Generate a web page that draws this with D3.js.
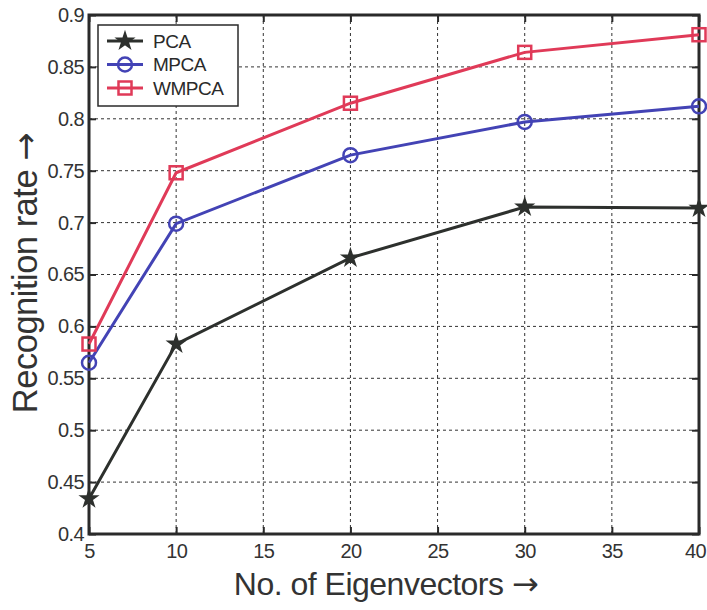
<!DOCTYPE html>
<html>
<head>
<meta charset="utf-8">
<script src="https://cdn.jsdelivr.net/npm/d3@7"></script>
<style>
  body { margin: 0; background: #fff; }
  svg { display: block; font-family: "Liberation Sans", Arial, sans-serif; }
  .grid line { stroke: #333; stroke-width: 1; stroke-dasharray: 3,3; }
  .axis text { font-size: 20px; fill: #333; letter-spacing: -0.6px; }
  .axis line, .axis path { stroke: #2a2a2a; }
</style>
</head>
<body>
<div id="chart"></div>
<script>
// Data
const eigenvectors = [5, 10, 20, 30, 40];
const pca   = [0.434, 0.583, 0.666, 0.715, 0.714];
const mpca  = [0.565, 0.699, 0.765, 0.797, 0.812];
const wmpca = [0.583, 0.748, 0.815, 0.864, 0.881];
const xTicks = [5, 10, 15, 20, 25, 30, 35, 40];
const yTicks = [0.4, 0.45, 0.5, 0.55, 0.6, 0.65, 0.7, 0.75, 0.8, 0.85, 0.9];

const series = [
    {name: "PCA",   values: pca,   color: "#2d302d", marker: "star"},
    {name: "MPCA",  values: mpca,  color: "#4343b5", marker: "circle"},
    {name: "WMPCA", values: wmpca, color: "#e03a58", marker: "square"}
];

const W = 707, H = 610;
const margin = {top: 15, right: 8, bottom: 76, left: 89};
const width = W - margin.left - margin.right;
const height = H - margin.top - margin.bottom;

const svg = d3.select("#chart")
    .append("svg")
    .attr("width", W)
    .attr("height", H)
    .append("g")
    .attr("transform", `translate(${margin.left},${margin.top})`);

const x = d3.scaleLinear().domain([5, 40]).range([0, width]);
const y = d3.scaleLinear().domain([0.4, 0.9]).range([height, 0]);

// Grid
svg.append("g")
    .attr("class", "grid")
    .selectAll("line")
    .data(xTicks.slice(1, -1))
    .enter().append("line")
    .attr("x1", d => x(d)).attr("x2", d => x(d))
    .attr("y1", 0).attr("y2", height);

svg.append("g")
    .attr("class", "grid")
    .selectAll("line")
    .data(yTicks.slice(1, -1))
    .enter().append("line")
    .attr("x1", 0).attr("x2", width)
    .attr("y1", d => y(d)).attr("y2", d => y(d));

// Axes (inward ticks, MATLAB style)
const fmt = d => String(+d.toFixed(2));

svg.append("g")
    .attr("class", "axis")
    .attr("transform", `translate(0,${height})`)
    .call(d3.axisBottom(x).tickValues(xTicks).tickSize(-7).tickPadding(10).tickFormat(fmt))
    .call(g => g.select(".domain").remove())
    .call(g => g.selectAll("line").attr("stroke-width", 2))
    .call(g => g.selectAll("text").filter(d => d === 40).attr("dx", -4));

svg.append("g")
    .attr("class", "axis")
    .call(d3.axisTop(x).tickValues(xTicks).tickSize(-7).tickFormat(""))
    .call(g => g.select(".domain").remove())
    .call(g => g.selectAll("line").attr("stroke-width", 2));

svg.append("g")
    .attr("class", "axis")
    .call(d3.axisLeft(y).tickValues(yTicks).tickSize(-7).tickPadding(5).tickFormat(fmt))
    .call(g => g.select(".domain").remove())
    .call(g => g.selectAll("line").attr("stroke-width", 2));

svg.append("g")
    .attr("class", "axis")
    .attr("transform", `translate(${width},0)`)
    .call(d3.axisRight(y).tickValues(yTicks).tickSize(-7).tickFormat(""))
    .call(g => g.select(".domain").remove())
    .call(g => g.selectAll("line").attr("stroke-width", 2));

// Frame
svg.append("rect")
    .attr("width", width)
    .attr("height", height)
    .attr("fill", "none")
    .attr("stroke", "#2a2a2a")
    .attr("stroke-width", 3);

// Lines
const line = d3.line()
    .x((d, i) => x(eigenvectors[i]))
    .y(d => y(d));

const star = d3.symbol().type(d3.symbolStar).size(85);

function drawMarker(g, s) {
    if (s.marker === "star") {
        g.append("path").attr("d", star).attr("fill", s.color).attr("stroke", s.color).attr("stroke-width", 1.5);
    } else if (s.marker === "circle") {
        g.append("circle").attr("r", 7).attr("fill", "none").attr("stroke", s.color).attr("stroke-width", 2.5);
    } else {
        g.append("rect").attr("x", -6.5).attr("y", -6.5).attr("width", 13).attr("height", 13)
            .attr("fill", "none").attr("stroke", s.color).attr("stroke-width", 2.5);
    }
}

series.forEach(s => {
    svg.append("path")
        .datum(s.values)
        .attr("fill", "none")
        .attr("stroke", s.color)
        .attr("stroke-width", 3)
        .attr("d", line);

    s.values.forEach((v, i) => {
        const g = svg.append("g").attr("transform", `translate(${x(eigenvectors[i])},${y(v)})`);
        drawMarker(g, s);
    });
});

// Legend
const legend = svg.append("g").attr("transform", "translate(9,10)");
legend.append("rect")
    .attr("width", 140)
    .attr("height", 81)
    .attr("fill", "#fff")
    .attr("stroke", "#2a2a2a")
    .attr("stroke-width", 1.5);

series.forEach((s, i) => {
    const row = legend.append("g").attr("transform", `translate(0,${16 + i * 23.5})`);
    row.append("line")
        .attr("x1", 9).attr("x2", 45)
        .attr("stroke", s.color).attr("stroke-width", 3);
    const m = row.append("g").attr("transform", "translate(27,0)");
    drawMarker(m, s);
    row.append("text")
        .attr("x", 55)
        .attr("dy", "0.35em")
        .attr("font-size", 19)
        .attr("letter-spacing", -0.5)
        .attr("fill", "#2a2a2a")
        .text(s.name);
});

// Axis titles
const xTitle = svg.append("text")
    .attr("x", 297)
    .attr("y", height + 61)
    .attr("text-anchor", "middle")
    .attr("font-size", 32)
    .attr("letter-spacing", -0.5)
    .attr("fill", "#333");
xTitle.append("tspan").text("No. of Eigenvectors ");
xTitle.append("tspan").attr("font-family", "DejaVu Sans").attr("font-size", 32).text("\u2192");

const yTitle = svg.append("text")
    .attr("transform", `translate(-52,${258}) rotate(-90)`)
    .attr("text-anchor", "middle")
    .attr("font-size", 34.5)
    .attr("letter-spacing", -0.5)
    .attr("fill", "#333");
yTitle.append("tspan").text("Recognition rate ");
yTitle.append("tspan").attr("font-family", "DejaVu Sans").attr("font-size", 34).text("\u2192");
</script>
</body>
</html>
